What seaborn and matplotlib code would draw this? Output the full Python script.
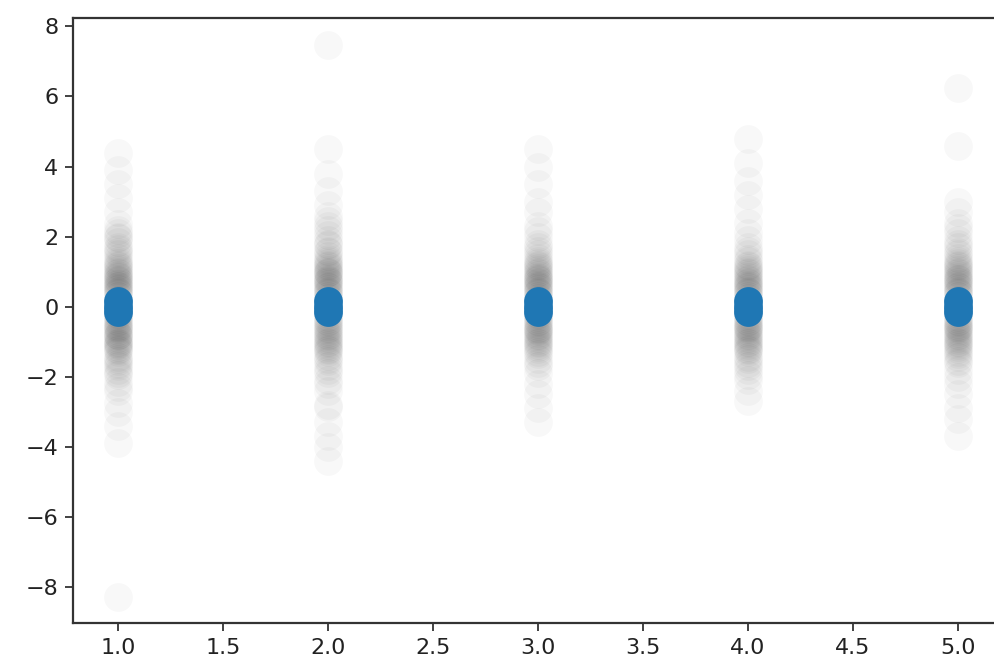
import numpy as np
import pandas as pd
import matplotlib
matplotlib.use("Agg")
import matplotlib.pyplot as plt
import seaborn as sns

# x positions of the five columns
groups = [1, 2, 3, 4, 5]

# faint samples, one list per column
samples_1 = [-0.35, -0.3, -0.25, -0.2, -0.15, -0.1, -0.05, 0.0, 0.05, 0.1, 0.15, 0.2, 0.3, 0.38,
             0.45, 0.5, 0.6, 0.65, 0.75, 0.85, 0.9, 1.0, 1.1, 1.18,
             -0.45, -0.55, -0.6, -0.7, -0.8, -0.85, -0.95, -1.05, -1.1, -1.2,
             0.42, 0.52, 0.58, 0.68, 0.72, 0.8, 0.88, 0.95, 1.05, 1.15,
             -0.42, -0.5, -0.58, -0.65, -0.75, -0.82, -0.9, -1.0, -1.08, -1.15,
             1.3, 1.4, 1.55, 1.7, 1.85, 1.95, -1.3, -1.45, -1.55, -1.7, -1.8, -1.95,
             1.25, 1.5, 1.65, 2.0, -1.25, -1.5, -1.65, -1.9,
             2.1, 2.35, 2.7, -2.15, -2.4, -2.75, 2.2, -2.3,
             3.1, 3.5, 3.9, 4.4, -3.0, -3.4, -3.9, -8.3]
samples_2 = [-0.35, -0.3, -0.2, -0.15, -0.1, -0.05, 0.0, 0.05, 0.1, 0.15, 0.25, 0.3, 0.38,
             0.45, 0.5, 0.6, 0.7, 0.75, 0.85, 0.95, 1.0, 1.1, 1.2,
             -0.45, -0.5, -0.6, -0.7, -0.8, -0.9, -1.0, -1.1, -1.2,
             0.42, 0.55, 0.65, 0.72, 0.8, 0.9, 0.98, 1.05, 1.15, 1.25,
             -0.42, -0.55, -0.65, -0.75, -0.85, -0.95, -1.05, -1.15,
             1.3, 1.45, 1.6, 1.75, 1.9, 2.05, -1.3, -1.4, -1.55, -1.7, -1.9,
             1.35, 1.55, 1.8, 2.2, -1.25, -1.5, -1.8,
             2.3, 2.6, 2.9, -2.1, -2.4, -2.8, -2.85, 2.45, -2.2,
             3.3, 3.8, 4.5, 7.48, -3.3, -3.7, -4.0, -4.4]
samples_3 = [-0.35, -0.3, -0.25, -0.2, -0.1, -0.05, 0.0, 0.05, 0.1, 0.2, 0.25, 0.3, 0.38,
             0.45, 0.55, 0.6, 0.7, 0.8, 0.85, 0.95, 1.05, 1.15, 1.25,
             -0.45, -0.55, -0.65, -0.7, -0.8, -0.9, -1.0, -1.1, -1.2,
             0.42, 0.5, 0.62, 0.68, 0.75, 0.82, 0.9, 1.0, 1.1, 1.2,
             -0.42, -0.5, -0.6, -0.68, -0.75, -0.85, -0.95, -1.05, -1.15,
             1.4, 1.6, 1.8, 2.0, -1.35, -1.5, -1.7, -1.9,
             1.3, 1.5, 1.7, -1.3, -1.6,
             2.3, 2.7, -2.2, -2.5, 2.15,
             3.0, 3.5, 4.0, 4.5, -2.9, -3.3]
samples_4 = [-0.35, -0.3, -0.25, -0.15, -0.1, -0.05, 0.0, 0.05, 0.1, 0.15, 0.25, 0.3, 0.38,
             0.45, 0.55, 0.6, 0.7, 0.8, 0.9, 1.0, 1.1, 1.2,
             -0.45, -0.55, -0.6, -0.7, -0.8, -0.9, -1.0, -1.1, -1.2,
             0.42, 0.5, 0.62, 0.68, 0.75, 0.85, 0.95, 1.05, 1.15,
             -0.42, -0.5, -0.58, -0.65, -0.75, -0.85, -0.95, -1.05, -1.15,
             1.35, 1.5, 1.7, 1.9, 2.1, -1.3, -1.45, -1.6, -1.8, -1.95,
             1.3, 1.6, -1.25, -1.5, -1.7,
             2.4, 2.8, -2.1, -2.4, -2.7,
             3.2, 3.6, 4.1, 4.8]
samples_5 = [-0.35, -0.3, -0.2, -0.15, -0.1, -0.05, 0.0, 0.05, 0.1, 0.15, 0.2, 0.3, 0.38,
             0.45, 0.5, 0.6, 0.7, 0.8, 0.85, 0.95, 1.05, 1.15, 1.25,
             -0.45, -0.55, -0.6, -0.7, -0.8, -0.9, -1.0, -1.1, -1.2,
             0.42, 0.55, 0.65, 0.72, 0.78, 0.9, 1.0, 1.1, 1.2,
             -0.42, -0.5, -0.58, -0.65, -0.75, -0.85, -0.95, -1.05, -1.15,
             1.4, 1.55, 1.7, 1.9, 2.1, -1.3, -1.45, -1.6, -1.8, -2.0,
             1.3, 1.5, 1.8, -1.35, -1.55,
             2.4, 2.7, 3.0, -2.2, -2.5, -2.9, 2.25,
             4.6, 6.25, -3.2, -3.7]

# centre markers (blue)
centre_y = [-0.15, 0.0, 0.15]

samples = [samples_1, samples_2, samples_3, samples_4, samples_5]
df = pd.DataFrame({
    "x": [g for g, s in zip(groups, samples) for _ in s],
    "y": [v for s in samples for v in s],
})
df_c = pd.DataFrame({
    "x": [g for g in groups for _ in centre_y],
    "y": [c for _ in groups for c in centre_y],
})

sns.set_style("ticks")
plt.rcParams["font.family"] = ["DejaVu Sans"]

fig = plt.figure(figsize=(9.95, 6.66), dpi=100)
ax = fig.add_axes([73 / 995, 43 / 666, (1000 - 73) / 995, 605 / 666])

sns.scatterplot(data=df, x="x", y="y", color="black", alpha=0.028, s=430,
                linewidth=0, ax=ax, legend=False)
sns.scatterplot(data=df_c, x="x", y="y", color="#1f77b4", s=430,
                linewidth=0, ax=ax, legend=False)

ax.set_xlim(0.786, 5.2)
ax.set_ylim(-9.03, 8.24)
ax.set_xticks([1.0, 1.5, 2.0, 2.5, 3.0, 3.5, 4.0, 4.5, 5.0])
ax.set_yticks([-8, -6, -4, -2, 0, 2, 4, 6, 8])
ax.set_xlabel("")
ax.set_ylabel("")
ax.tick_params(labelsize=16, length=5.5, width=1.3, pad=5, colors="#333333",
               labelcolor="#222222")
for sp in ax.spines.values():
    sp.set_visible(True)
    sp.set_linewidth(1.6)
    sp.set_color("#333333")

fig.savefig("out.png", dpi=100)
